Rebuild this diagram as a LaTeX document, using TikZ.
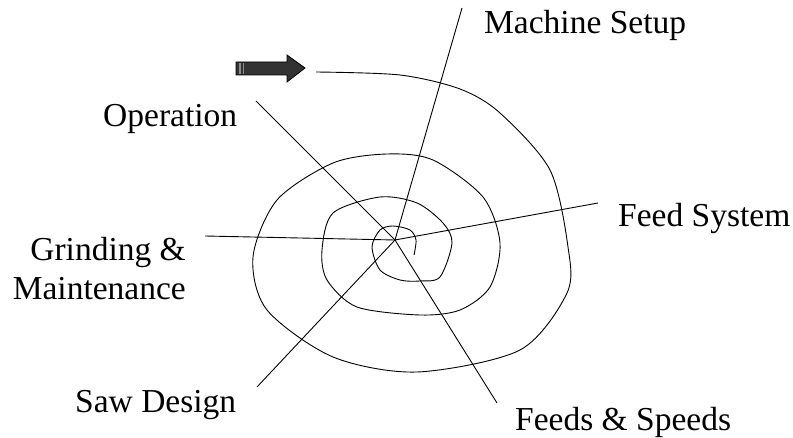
\documentclass[tikz,border=0pt]{standalone}
\usepackage{fontspec}
\setmainfont{Liberation Serif}
\usetikzlibrary{arrows}

\begin{document}
\begin{tikzpicture}[
            x=1pt, y=-1pt,
            ray/.style={
                line width=0.9pt
            },
            tag/.style={
                inner sep=0pt,
                font=\fontsize{33.5}{39}\selectfont
            }
        ]
        \useasboundingbox (0,0) rectangle (793,438);
        \coordinate (hub) at (395,240);
        \node[tag, anchor=base west] (setup) at (484,34) {Machine Setup};
        \node[tag, anchor=base west] (oper) at (103,127) {Operation};
        \node[tag, anchor=base west] (feedsys) at (618,227) {Feed System};
        \node[tag, align=right, anchor=base east] (grind) at (186,300) {Grinding \&\\Maintenance};
        \node[tag, anchor=base west] (saw) at (75,413) {Saw Design};
        \node[tag, anchor=base west] (speeds) at (515,430) {Feeds \& Speeds};
        \coordinate (e1) at (462,8);
        \coordinate (e2) at (256,101);
        \coordinate (e3) at (598,203);
        \coordinate (e4) at (205,236);
        \coordinate (e5) at (257,387);
        \coordinate (e6) at (497,403);
        \foreach \e in {e1,e2,e3,e4,e5,e6}
            \draw[ray] (hub) -- (\e);
        \draw[ray] plot[smooth] coordinates {
            (316,72) (400,75) (460,89) (500,113) (550,170) (568,247) (567,293)
            (520,350) (417,372) (333,357) (267,310) (253,257) (277,200) (333,163)
            (387,154) (433,160) (483,197) (500,243) (490,287) (460,310) (420,315)
            (357,307) (327,280) (322,250) (333,213) (380,197) (417,203) (443,223)
            (452,243) (440,277) (420,281) (400,280) (380,270) (372,247) (380,230)
            (393,226) (410,230) (416,240) (414,255)};
        \draw[fill=black!80, line width=0.8pt]
            (236,62) -- (287,62) -- (287,55) -- (305,68) -- (287,82)
            -- (287,75) -- (236,75) -- cycle;
        \fill[black!45] (239,63) rectangle (240.5,74);
        \fill[black!45] (242.5,63) rectangle (244,74);
        \end{tikzpicture}
\end{document}
